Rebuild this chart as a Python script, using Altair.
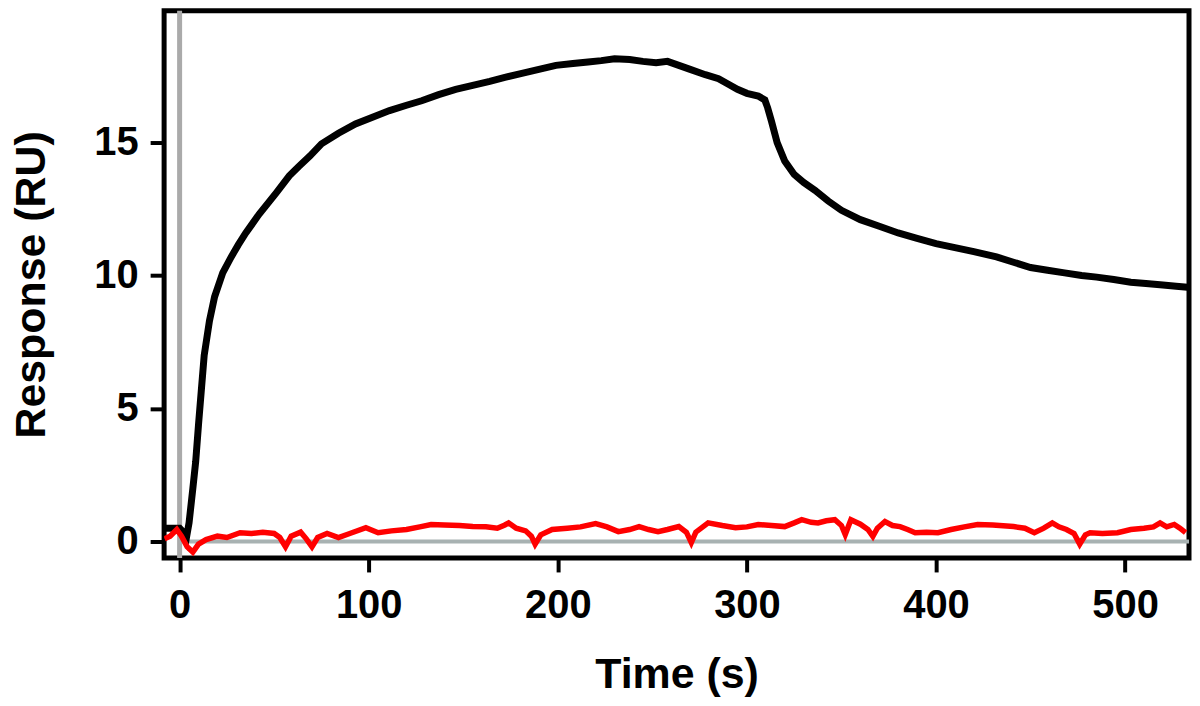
import altair as alt
import pandas as pd

# Black sensorgram (time s, response RU)
black_t = [-8, -4, 0, 2, 3.5, 5, 7, 8.5, 10, 11.5, 13, 15.8, 18.5, 22.8, 27.3, 31, 35, 42, 51, 58, 63,
           69, 75, 84, 93, 102, 111, 120, 128, 137, 146, 155, 164, 172, 181, 190, 199, 208, 216, 223,
           230, 238, 245, 252, 258, 264, 270, 278, 285, 290, 295, 300, 306, 309.5, 311, 313, 316, 320,
           325, 330, 336, 343, 350, 360, 370, 380, 390, 400, 410, 420, 432, 441, 450, 459, 468, 477,
           485, 494, 503, 511, 520, 527, 533]
black_v = [0.5, 0.5, 0.5, 0.35, 0.1, 0.7, 2.0, 3.0, 4.4, 5.7, 7.0, 8.3, 9.2, 10.1, 10.7, 11.15, 11.6,
           12.3, 13.1, 13.75, 14.1, 14.5, 14.95, 15.35, 15.7, 15.95, 16.2, 16.4, 16.57, 16.8, 17.0,
           17.15, 17.3, 17.45, 17.6, 17.75, 17.9, 17.97, 18.03, 18.08, 18.15, 18.12, 18.05, 18.0,
           18.05, 17.9, 17.75, 17.55, 17.4, 17.2, 17.0, 16.85, 16.75, 16.6, 16.3, 15.8, 15.0, 14.3,
           13.8, 13.5, 13.2, 12.8, 12.45, 12.1, 11.85, 11.6, 11.4, 11.2, 11.05, 10.9, 10.7, 10.5,
           10.3, 10.2, 10.1, 10.0, 9.94, 9.85, 9.75, 9.7, 9.64, 9.6, 9.56]

# Red reference channel
red_t = [-8, -5, -1.5, 1, 4, 7, 10, 14, 20, 25, 32, 38, 44, 50, 53, 56, 59, 64, 67, 70, 73, 78, 84,
         90, 98.5, 105, 112, 120, 127, 133, 140, 148, 155, 162, 168, 172, 174, 178, 183, 186, 188,
         191, 197, 205, 212, 220, 226, 232, 238, 243, 248, 253, 258, 264, 268, 270.6, 273, 279.5,
         287, 294, 300, 306, 313, 320, 325, 329, 334, 337.6, 342, 346.5, 350, 352, 355, 360, 364,
         366.6, 369, 373, 377, 381, 385, 389, 395, 401, 408, 415, 422, 430, 441, 447, 452, 457,
         461.5, 465, 469, 473, 476, 479, 481.5, 488, 496, 503, 510, 515, 518.5, 522, 526, 529, 532]
red_v = [0.1, 0.2, 0.45, 0.2, -0.2, -0.4, -0.1, 0.07, 0.2, 0.15, 0.33, 0.3, 0.35, 0.3, 0.15, -0.2,
         0.2, 0.35, 0.1, -0.2, 0.15, 0.3, 0.15, 0.3, 0.52, 0.33, 0.4, 0.45, 0.55, 0.64, 0.62, 0.6,
         0.56, 0.55, 0.5, 0.62, 0.7, 0.5, 0.4, 0.2, -0.1, 0.25, 0.45, 0.5, 0.55, 0.67, 0.55, 0.37,
         0.45, 0.56, 0.45, 0.37, 0.45, 0.56, 0.35, -0.04, 0.35, 0.7, 0.6, 0.52, 0.55, 0.64, 0.6,
         0.56, 0.7, 0.82, 0.72, 0.7, 0.78, 0.82, 0.6, 0.26, 0.82, 0.65, 0.45, 0.19, 0.5, 0.75, 0.6,
         0.56, 0.45, 0.33, 0.35, 0.33, 0.45, 0.55, 0.64, 0.62, 0.56, 0.5, 0.33, 0.5, 0.7, 0.55,
         0.45, 0.3, -0.1, 0.25, 0.33, 0.3, 0.33, 0.45, 0.5, 0.55, 0.7, 0.55, 0.64, 0.5, 0.33]

x_domain = [-8.2, 533.8]
y_domain = [-0.62, 19.95]
x_ticks = [0, 100, 200, 300, 400, 500]
y_ticks = [0, 5, 10, 15]
injection_t = [0]
baseline_v = [0]

black_df = pd.DataFrame({"t": black_t, "v": black_v})
red_df = pd.DataFrame({"t": red_t, "v": red_v})
vline_df = pd.DataFrame({"t": injection_t})
hline_df = pd.DataFrame({"t0": injection_t, "t1": [x_domain[1]], "v": baseline_v})

xs = alt.Scale(domain=x_domain, nice=False, zero=False)
ys = alt.Scale(domain=y_domain, nice=False, zero=False)

x_axis = alt.Axis(values=x_ticks, title="Time (s)", labelPadding=14, titlePadding=28)
y_axis = alt.Axis(values=y_ticks, title="Response (RU)", labelPadding=12, titlePadding=40)

vline = alt.Chart(vline_df).mark_rule(color="#aaaaaa", strokeWidth=5).encode(
    x=alt.X("t:Q", scale=xs, axis=x_axis)
)
hline = alt.Chart(hline_df).mark_rule(color="#a8b2b2", strokeWidth=4).encode(
    x=alt.X("t0:Q", scale=xs, axis=x_axis), x2="t1:Q",
    y=alt.Y("v:Q", scale=ys, axis=y_axis)
)
black = alt.Chart(black_df).mark_line(color="black", strokeWidth=7, clip=True).encode(
    x=alt.X("t:Q", scale=xs, axis=x_axis),
    y=alt.Y("v:Q", scale=ys, axis=y_axis),
    order="t:Q",
)
red = alt.Chart(red_df).mark_line(color="#ff0000", strokeWidth=5.5, clip=True).encode(
    x=alt.X("t:Q", scale=xs, axis=x_axis),
    y=alt.Y("v:Q", scale=ys, axis=y_axis),
    order="t:Q",
)

chart = alt.layer(vline, hline, black, red).properties(
    width=1027.5,
    height=548.5,
    autosize=alt.AutoSizeParams(type="none"),
    padding={"left": 156.5, "top": 2, "right": 3, "bottom": 139.5},
).configure_view(
    stroke="black", strokeWidth=5
).configure_axis(
    grid=False,
    domain=False,
    ticks=True,
    tickColor="black",
    tickWidth=4,
    tickSize=14,
    labelFont="Liberation Sans",
    labelFontWeight="bold",
    labelFontSize=40,
    labelColor="black",
    titleFont="Liberation Sans",
    titleFontWeight="bold",
    titleFontSize=43,
    titleColor="black",
)

chart.save("out.html", embed_options={"renderer": "svg", "actions": False})
